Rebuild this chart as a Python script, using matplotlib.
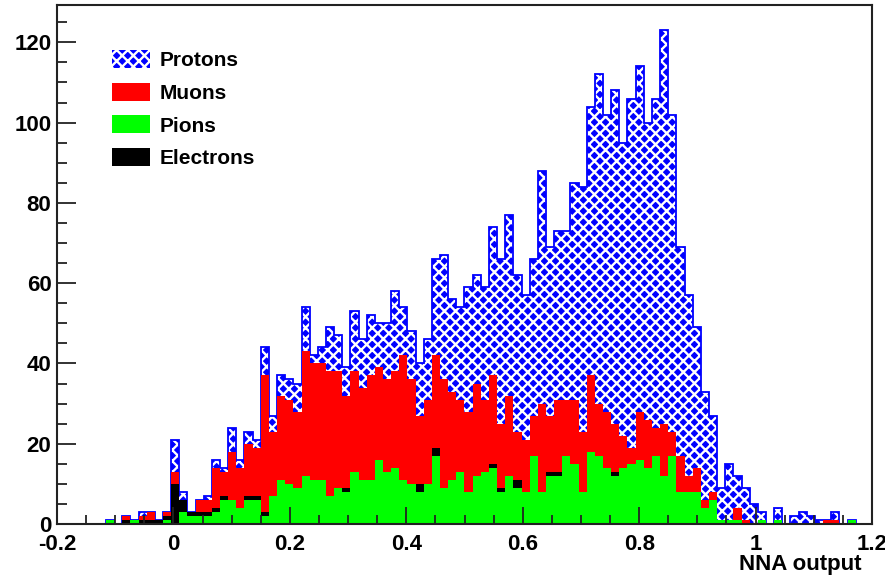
import matplotlib.pyplot as plt
import numpy as np
from matplotlib.patches import Patch
from matplotlib.ticker import MultipleLocator, FuncFormatter

plt.rcParams['font.family'] = ['Liberation Sans', 'DejaVu Sans']
plt.rcParams['font.weight'] = 'bold'
plt.rcParams['hatch.linewidth'] = 1.7

# 100 bins between -0.2 and 1.2
x_lo, x_hi, n_bins = -0.2, 1.2, 100

pions = [0, 0, 0, 0, 0, 0, 1, 0, 0, 1,
         0, 0, 0, 1, 0, 3, 2, 2, 2, 3,
         6, 6, 4, 6, 6, 2, 7, 11, 10, 9,
         12, 11, 11, 7, 9, 8, 13, 11, 11, 16,
         13, 14, 11, 10, 8, 10, 17, 9, 11, 13,
         8, 12, 13, 14, 8, 12, 9, 8, 17, 8,
         12, 12, 17, 15, 8, 18, 17, 14, 12, 14,
         15, 16, 14, 17, 12, 17, 8, 8, 8, 4,
         6, 1, 1, 1, 0, 0, 1, 0, 1, 0,
         0, 0, 0, 0, 0, 0, 0, 1, 0, 0]
electrons = [0, 0, 0, 0, 0, 0, 0, 0, 1, 0,
             1, 1, 1, 1, 10, 3, 1, 1, 1, 1,
             1, 0, 0, 1, 1, 1, 0, 0, 0, 0,
             0, 0, 0, 0, 0, 1, 0, 0, 0, 0,
             0, 0, 0, 0, 2, 0, 2, 0, 0, 0,
             0, 0, 0, 1, 1, 0, 2, 0, 0, 0,
             1, 1, 0, 0, 0, 0, 0, 0, 1, 0,
             0, 0, 0, 0, 0, 0, 0, 0, 0, 0,
             0, 0, 0, 0, 0, 0, 0, 0, 0, 0,
             0, 0, 0, 0, 0, 0, 0, 0, 0, 0]
muons = [0, 0, 0, 0, 0, 0, 0, 0, 1, 0,
         1, 2, 0, 1, 3, 0, 0, 3, 3, 10,
         6, 12, 10, 13, 12, 34, 16, 21, 21, 19,
         31, 29, 29, 31, 29, 23, 25, 23, 26, 23,
         23, 24, 31, 26, 17, 21, 23, 27, 22, 18,
         20, 23, 18, 22, 16, 20, 12, 13, 10, 22,
         14, 18, 14, 16, 15, 19, 13, 14, 12, 8,
         4, 12, 12, 7, 13, 6, 9, 4, 6, 2,
         2, 0, 0, 3, 1, 0, 0, 0, 0, 0,
         0, 0, 0, 0, 1, 1, 0, 0, 0, 0]
protons = [0, 0, 0, 0, 0, 0, 0, 0, 0, 0,
           1, 0, 0, 0, 8, 2, 0, 0, 1, 2,
           1, 6, 2, 3, 2, 7, 4, 5, 5, 7,
           11, 2, 4, 11, 9, 7, 15, 12, 15, 11,
           14, 20, 12, 12, 13, 15, 24, 31, 23, 23,
           31, 27, 28, 37, 41, 45, 39, 36, 39, 58,
           42, 42, 42, 54, 61, 67, 82, 74, 83, 73,
           87, 86, 74, 82, 98, 79, 52, 45, 35, 27,
           19, 8, 14, 8, 8, 5, 2, 0, 3, 0,
           2, 3, 2, 1, 0, 2, 0, 0, 0, 0]

edges = np.linspace(x_lo, x_hi, n_bins + 1)
# stacked: pions at the bottom, then electrons, muons, protons
cum = np.cumsum([pions, electrons, muons, protons], axis=0)

fig = plt.figure(figsize=(8.85, 5.76), dpi=100)
ax = fig.add_axes([57 / 885, 1 - 524 / 576, 815 / 885, 519 / 576])

ax.stairs(cum[3], edges, fill=True, facecolor='blue', edgecolor='white',
          hatch='xxx', linewidth=0)
ax.stairs(cum[3], edges, color='blue', linewidth=1.3)
ax.stairs(cum[2], edges, fill=True, color='red', linewidth=0)
ax.stairs(cum[1], edges, fill=True, color='black', linewidth=0)
ax.stairs(cum[0], edges, fill=True, color=(0, 1, 0), linewidth=0)

ax.set_xlim(x_lo, x_hi)
ax.set_ylim(0, 129.3)

ax.xaxis.set_major_locator(MultipleLocator(0.2))
ax.xaxis.set_minor_locator(MultipleLocator(0.05))
ax.yaxis.set_major_locator(MultipleLocator(20))
ax.yaxis.set_minor_locator(MultipleLocator(5))
ax.xaxis.set_major_formatter(FuncFormatter(lambda v, p: f'{v:g}' if abs(v) > 1e-9 else '0'))
ax.tick_params(which='both', direction='in', top=False, right=False,
               labelsize=16, width=1.3, color='#222222')
ax.tick_params(axis='x', which='major', length=12, pad=7)
ax.tick_params(axis='x', which='minor', length=6.5)
ax.tick_params(axis='y', which='major', length=14, pad=4)
ax.tick_params(axis='y', which='minor', length=7.5)
for s in ax.spines.values():
    s.set_linewidth(1.5)
    s.set_color('#222222')

ax.set_xlabel('NNA output', fontsize=16, fontweight='bold', ha='right', va='top')
ax.xaxis.set_label_coords(0.987, -0.057)

handles = [Patch(facecolor='blue', edgecolor='white', hatch='xxx', linewidth=0),
           Patch(facecolor='red'), Patch(facecolor=(0, 1, 0)), Patch(facecolor='black')]
ax.legend(handles, ['Protons', 'Muons', 'Pions', 'Electrons'], loc='upper left',
          bbox_to_anchor=(0.067, 0.913), frameon=False, fontsize=15,
          handlelength=1.85, handleheight=0.95, handletextpad=0.45,
          labelspacing=0.6, borderpad=0, borderaxespad=0)

fig.savefig('out.png', dpi=100)
